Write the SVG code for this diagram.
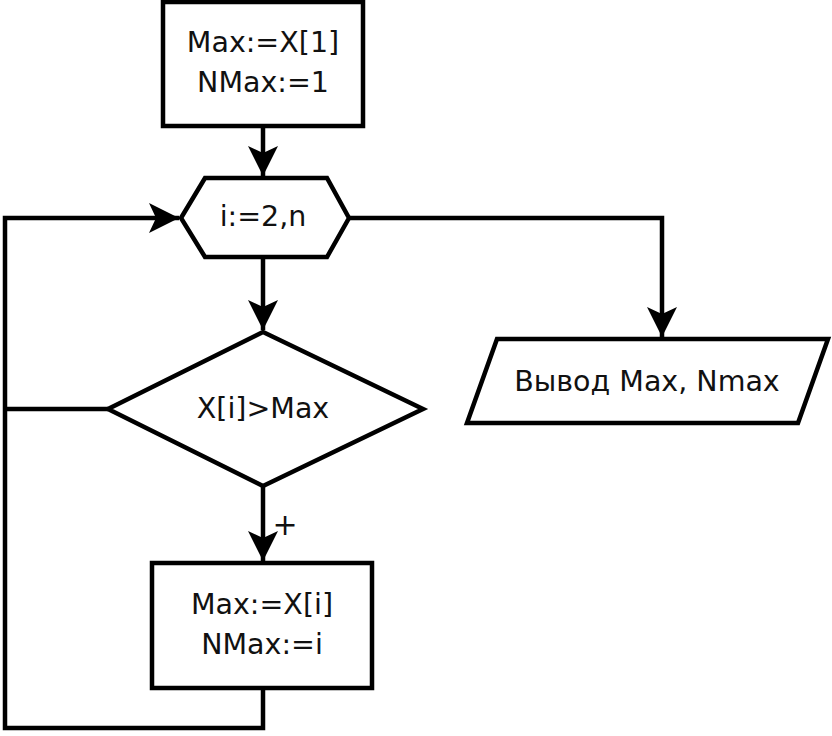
<svg xmlns="http://www.w3.org/2000/svg" width="832" height="736" viewBox="0 0 832 736">
<style>
.s{fill:#fff;stroke:#000;stroke-width:4.5;stroke-linejoin:miter}
.c{fill:none;stroke:#000;stroke-width:4.5}
.t{font-family:"DejaVu Sans",sans-serif;font-size:28.5px;fill:#111;text-anchor:middle}
</style>
<defs>
<marker id="a" markerUnits="userSpaceOnUse" markerWidth="34" markerHeight="34" viewBox="-32 -17 34 34" refX="0" refY="0" orient="auto">
<path d="M0,0 L-30,-15 L-23,0 L-30,15 Z" fill="#000"/>
</marker>
</defs>
<rect width="832" height="736" fill="#fff"/>
<g id="connectors">
<path class="c" d="M263,126 V176" marker-end="url(#a)"/>
<path class="c" d="M263,257 V330" marker-end="url(#a)"/>
<path class="c" d="M263,486 V561" marker-end="url(#a)"/>
<path class="c" d="M349,218 H662 V337" marker-end="url(#a)"/>
<path class="c" d="M263,688 V728 H5 V218 H179" marker-end="url(#a)"/>
<path class="c" d="M108,409 H3"/>
<text class="t" x="285" y="535" style="font-size:30px">+</text>
</g>
<g id="init">
<rect class="s" x="163" y="2" width="200" height="124"/>
<text class="t" x="263" y="52">Max:=X[1]</text>
<text class="t" x="263" y="92">NMax:=1</text>
</g>
<g id="loop">
<polygon class="s" points="181,218 205,178 327,178 349,218 327,257 205,257"/>
<text class="t" x="263" y="226">i:=2,n</text>
</g>
<g id="cond">
<polygon class="s" points="263,332 423,409 263,486 108,409"/>
<text class="t" x="263" y="418">X[i]&gt;Max</text>
</g>
<g id="assign">
<rect class="s" x="152" y="563" width="220" height="125"/>
<text class="t" x="262" y="614">Max:=X[i]</text>
<text class="t" x="262" y="654">NMax:=i</text>
</g>
<g id="output">
<polygon class="s" points="497,339 828,339 798,423 467,423"/>
<text class="t" x="647" y="391">Вывод Max, Nmax</text>
</g>
</svg>
